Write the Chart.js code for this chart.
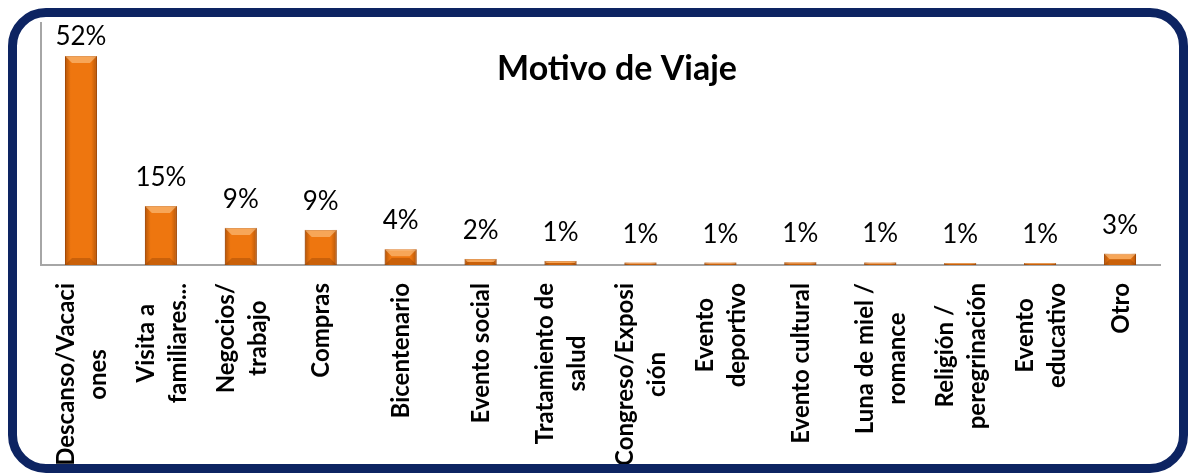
<!DOCTYPE html>
<html>
<head>
<meta charset="utf-8">
<script src="https://cdn.jsdelivr.net/npm/chart.js@4"></script>
<style>
  body { margin: 0; background: #fff; }
  #wrap { position: relative; width: 1189px; height: 473px; overflow: hidden; }
  #motivo { position: absolute; left: 0; top: 0; }
  #frame {
    position: absolute; left: 8px; top: 8px; width: 1180px; height: 465px;
    box-sizing: border-box; border: 9px solid #0D2462; border-radius: 38px;
    pointer-events: none;
  }
</style>
</head>
<body>
<div id="wrap">
  <canvas id="motivo" width="1189" height="473"></canvas>
  <div id="frame"></div>
</div>
<script>
const categories = [
  ['Descanso/Vacaci', 'ones'],
  ['Visita a', 'familiares...'],
  ['Negocios/', 'trabajo'],
  ['Compras'],
  ['Bicentenario'],
  ['Evento social'],
  ['Tratamiento de', 'salud'],
  ['Congreso/Exposi', 'ción'],
  ['Evento', 'deportivo'],
  ['Evento cultural'],
  ['Luna de miel /', 'romance'],
  ['Religión /', 'peregrinación'],
  ['Evento', 'educativo'],
  ['Otro']
];
const shares = [51.8, 14.6, 9.2, 8.7, 3.9, 1.5, 1.0, 0.6, 0.6, 0.7, 0.65, 0.5, 0.5, 2.8];
const chartTitle = 'Motivo de Viaje';

// bevel look of the bars + value labels
const barDecor = {
  id: 'barDecor',
  afterDatasetsDraw(chart) {
    const ctx = chart.ctx;
    const meta = chart.getDatasetMeta(0);
    meta.data.forEach((bar, i) => {
      const left = bar.x - bar.width / 2, right = bar.x + bar.width / 2;
      const top = bar.y, bottom = bar.base;
      const h = bottom - top;
      ctx.save();
      const g = ctx.createLinearGradient(left, 0, right, 0);
      g.addColorStop(0, 'rgba(110,45,0,0.45)');
      g.addColorStop(0.18, 'rgba(110,45,0,0)');
      g.addColorStop(0.82, 'rgba(110,45,0,0)');
      g.addColorStop(1, 'rgba(110,45,0,0.45)');
      ctx.fillStyle = g;
      ctx.fillRect(left, top, bar.width, h);
      const b = Math.min(h / 2, 7);
      if (b > 0.5) {
        ctx.fillStyle = 'rgba(255,205,150,0.55)';
        ctx.beginPath();
        ctx.moveTo(left, top); ctx.lineTo(right, top);
        ctx.lineTo(right - b, top + b); ctx.lineTo(left + b, top + b);
        ctx.closePath(); ctx.fill();
        ctx.fillStyle = 'rgba(120,50,0,0.3)';
        ctx.beginPath();
        ctx.moveTo(left, bottom); ctx.lineTo(right, bottom);
        ctx.lineTo(right - b, bottom - b); ctx.lineTo(left + b, bottom - b);
        ctx.closePath(); ctx.fill();
      }
      ctx.fillStyle = '#000';
      ctx.font = '26px Lato';
      ctx.textAlign = 'center';
      ctx.textBaseline = 'alphabetic';
      ctx.fillText(Math.round(shares[i]) + '%', bar.x, Math.max(top - 20, 45));
      ctx.restore();
    });
  },
  afterDraw(chart) {
    const ctx = chart.ctx;
    const xs = chart.scales.x;
    const axisY = chart.chartArea.bottom;
    ctx.save();
    ctx.fillStyle = '#000';
    ctx.font = 'bold 24px Lato';
    ctx.textAlign = 'center';
    ctx.textBaseline = 'middle';
    chart.data.labels.forEach((lines, i) => {
      const x = xs.getPixelForValue(i);
      const w = Math.max(...lines.map(l => ctx.measureText(l).width));
      const yc = axisY + 18 + w / 2;
      lines.forEach((line, j) => {
        ctx.save();
        ctx.translate(x + 1 + (j - (lines.length - 1) / 2) * 32, yc);
        ctx.rotate(-Math.PI / 2);
        ctx.fillText(line, 0, 0);
        ctx.restore();
      });
    });
    // title sits inside the plot
    ctx.font = 'bold 34px Lato';
    ctx.textBaseline = 'alphabetic';
    ctx.fillText(chartTitle, 617, 80);
    ctx.restore();
  }
};

document.fonts.load('bold 24px Lato').then(() => {
  new Chart(document.getElementById('motivo'), {
    type: 'bar',
    data: {
      labels: categories,
      datasets: [{
        data: shares,
        backgroundColor: '#EE760F',
        borderColor: '#C65A08',
        borderWidth: 1,
        barPercentage: 0.4,
        categoryPercentage: 1
      }]
    },
    options: {
      responsive: false,
      animation: false,
      layout: { padding: { left: 41, top: 23, right: 29, bottom: 208 } },
      plugins: { legend: { display: false }, tooltip: { enabled: false } },
      scales: {
        x: {
          ticks: { display: false },
          grid: { display: false, drawTicks: false },
          border: { display: true, color: '#A6A6A6', width: 2 }
        },
        y: {
          min: 0,
          max: 60,
          ticks: { display: false },
          grid: { display: false, drawTicks: false },
          border: { display: true, color: '#A6A6A6', width: 2 }
        }
      }
    },
    plugins: [barDecor]
  });
});
</script>
</body>
</html>
